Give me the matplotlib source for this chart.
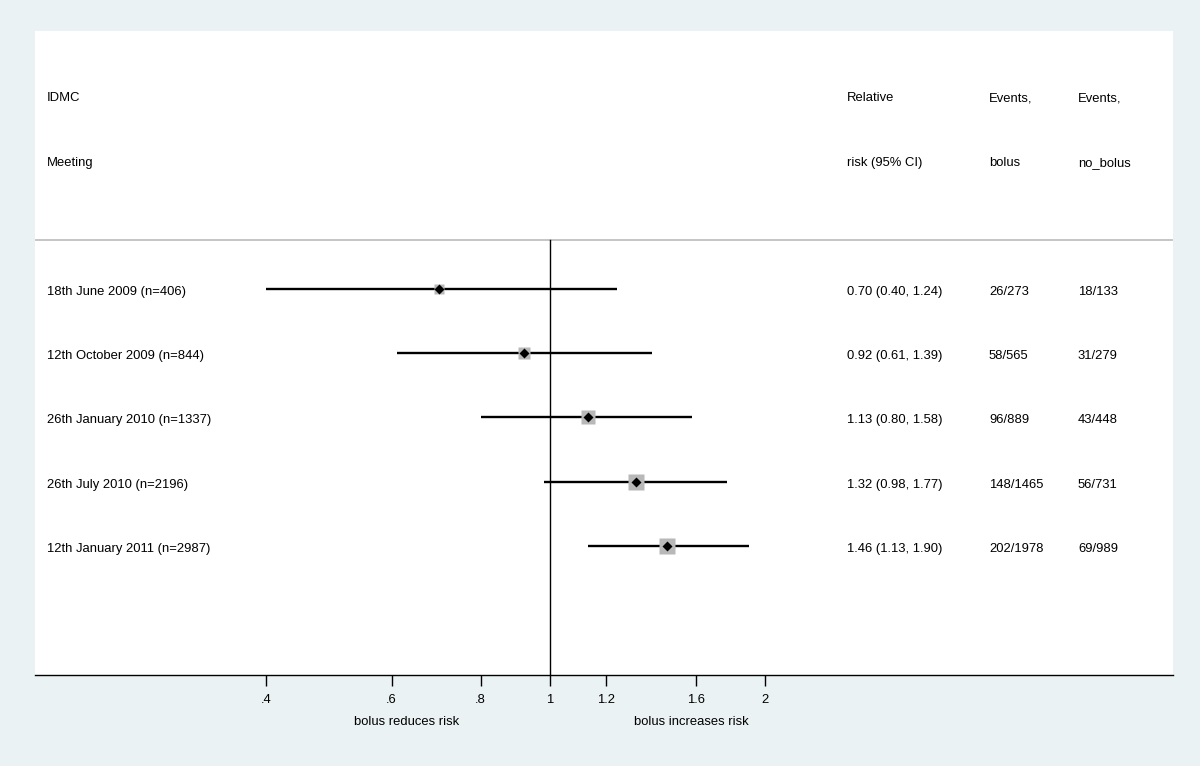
import numpy as np
import matplotlib.pyplot as plt
from matplotlib.transforms import blended_transform_factory, offset_copy

plt.rcParams['font.family'] = ['Liberation Sans', 'DejaVu Sans']

# データ
meetings = ['18th June 2009 (n=406)', '12th October 2009 (n=844)',
            '26th January 2010 (n=1337)', '26th July 2010 (n=2196)',
            '12th January 2011 (n=2987)']
rr = [0.70, 0.92, 1.13, 1.32, 1.46]
lo = [0.40, 0.61, 0.80, 0.98, 1.13]
hi = [1.24, 1.39, 1.58, 1.77, 1.90]
n_total = [406, 844, 1337, 2196, 2987]
ev_bolus = ['26/273', '58/565', '96/889', '148/1465', '202/1978']
ev_nobolus = ['18/133', '31/279', '43/448', '56/731', '69/989']
rr_text = ['0.70 (0.40, 1.24)', '0.92 (0.61, 1.39)', '1.13 (0.80, 1.58)',
           '1.32 (0.98, 1.77)', '1.46 (1.13, 1.90)']
xticks = [0.4, 0.6, 0.8, 1, 1.2, 1.6, 2]
xticklabels = ['.4', '.6', '.8', '1', '1.2', '1.6', '2']

bg = '#eaf2f3'
fig = plt.figure(figsize=(12, 7.66), dpi=100, facecolor=bg)
ax = fig.add_axes([35/1200, 1 - 675/766, 1138/1200, 644/766])
ax.set_facecolor('white')
ax.set_xscale('log')
ax.set_xlim(0.19, 7.46)
ax.set_ylim(7, -3)

rows = np.arange(1, len(meetings) + 1)

# 区切り線と基準線
ax.axhline(0.25, color='#c0c0c0', lw=1.3)
ax.plot([1, 1], [0.25, 7], color='black', lw=1.0)

# 信頼区間と点推定
for y, r, l, h, n in zip(rows, rr, lo, hi, n_total):
    ax.plot([l, h], [y, y], color='black', lw=1.7, solid_capstyle='butt')
    ms = 4.0 + 8.5 * np.sqrt(n / max(n_total)) * 0.95
    ax.plot(r, y, marker='s', ms=ms, color='#b8b8b8', mec='none')
    ax.plot(r, y, marker='D', ms=4.8, color='black', mec='none')

# テキスト列（少し下にずらす）
tr = offset_copy(blended_transform_factory(ax.transAxes, ax.transData),
                 fig=fig, y=-3, units='dots')
fs = 9.4
cols = [0.0105, 0.7135, 0.8383, 0.9165]
headers = [['IDMC', 'Relative', 'Events,', 'Events,'],
           ['Meeting', 'risk (95% CI)', 'bolus', 'no_bolus']]
for hy, hrow in zip([-2, -1], headers):
    for x, t in zip(cols, hrow):
        ax.text(x, hy, t, transform=tr, va='center', fontsize=fs)
for y, m, t, b, nb in zip(rows, meetings, rr_text, ev_bolus, ev_nobolus):
    for x, s in zip(cols, [m, t, b, nb]):
        ax.text(x, y, s, transform=tr, va='center', fontsize=fs)

# 軸
for s in ['top', 'left', 'right']:
    ax.spines[s].set_visible(False)
ax.spines['bottom'].set_linewidth(1.0)
ax.set_yticks([])
ax.set_xticks(xticks)
ax.set_xticklabels(xticklabels)
ax.xaxis.set_minor_locator(plt.NullLocator())
ax.tick_params(axis='x', length=8, width=1.0, labelsize=fs, pad=6)

tr2 = blended_transform_factory(ax.transData, ax.transAxes)
ax.text(0.63, -0.073, 'bolus reduces risk', transform=tr2, ha='center', va='center', fontsize=fs)
ax.text(1.58, -0.073, 'bolus increases risk', transform=tr2, ha='center', va='center', fontsize=fs)

fig.savefig('out.png', dpi=100, facecolor=bg)
